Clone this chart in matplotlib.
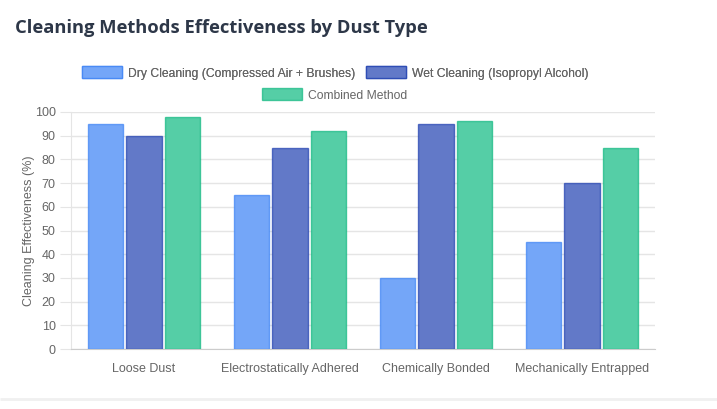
import numpy as np
import matplotlib.pyplot as plt
from matplotlib.patches import Patch, FancyBboxPatch

categories = ["Loose Dust", "Electrostatically Adhered", "Chemically Bonded", "Mechanically Entrapped"]
series_names = ["Dry Cleaning (Compressed Air + Brushes)", "Wet Cleaning (Isopropyl Alcohol)", "Combined Method"]
dry = [95, 65, 30, 45]
wet = [90, 85, 95, 70]
combined = [98, 92, 96, 85]

fills = ["#74a6f8", "#6279c8", "#55cea6"]
edges = [(0.23, 0.51, 0.96, 0.7), (0.12, 0.25, 0.69, 0.7), (0.06, 0.72, 0.5, 0.7)]

plt.rcParams['font.family'] = ['Liberation Sans', 'DejaVu Sans']

fig = plt.figure(figsize=(7.17, 4.09), dpi=100)
fig.patch.set_facecolor("white")

# faint card shadow at the bottom
fig.patches.append(FancyBboxPatch((0.0, 0.025), 1.0, 0.0, boxstyle="square,pad=0",
                                  transform=fig.transFigure, edgecolor="#f0f0f0",
                                  linewidth=2, facecolor="none"))

ax = fig.add_axes([71 / 717, 1 - 349 / 409, 584 / 717, 237 / 409])

x = np.arange(len(categories))
slot = 0.8 / 3
bw = slot * 0.9
for i, vals in enumerate([dry, wet, combined]):
    ax.bar(x + (i - 1) * slot, vals, width=bw, color=fills[i], edgecolor=edges[i],
           linewidth=1, label=series_names[i], zorder=3)

ax.set_xlim(-0.5, len(categories) - 0.5)
ax.set_ylim(0, 100)
ax.set_yticks(np.arange(0, 101, 10))
ax.set_xticks(x)
ax.set_xticklabels(categories)
ax.tick_params(axis='y', length=8, color="#e5e5e5", labelsize=9, labelcolor="#666666", pad=3)
ax.tick_params(axis='x', length=0, labelsize=9, labelcolor="#666666", pad=10)
ax.grid(axis='y', color="#e5e5e5", linewidth=1, zorder=0)
for s in ["top", "right"]:
    ax.spines[s].set_visible(False)
ax.spines["left"].set_color("#e5e5e5")
ax.spines["bottom"].set_color("#cccccc")
ax.set_ylabel("Cleaning Effectiveness (%)", fontsize=9, color="#666666", labelpad=0)
ax.yaxis.set_label_coords(-36 / 584, 0.5)

fig.text(15 / 717, 1 - 28 / 409, "Cleaning Methods Effectiveness by Dust Type",
         fontsize=13.2, fontweight="bold", color="#2d3748", va="center", ha="left",
         family=["Open Sans", "DejaVu Sans"])

handles = [Patch(facecolor=fills[i], edgecolor=edges[i], linewidth=1) for i in range(3)]
leg_kw = dict(loc="center", frameon=False, fontsize=8.7, handlelength=3.3, handleheight=1.15,
              handletextpad=0.5, columnspacing=0.9, labelcolor="#666666")
leg1 = fig.legend(handles[:2], series_names[:2], ncol=2, bbox_to_anchor=(335 / 717, 1 - 73 / 409), **leg_kw)
fig.add_artist(leg1)
fig.legend(handles[2:], series_names[2:], ncol=1, bbox_to_anchor=(335 / 717, 1 - 95 / 409), **leg_kw)

fig.savefig("out.png", dpi=100)
